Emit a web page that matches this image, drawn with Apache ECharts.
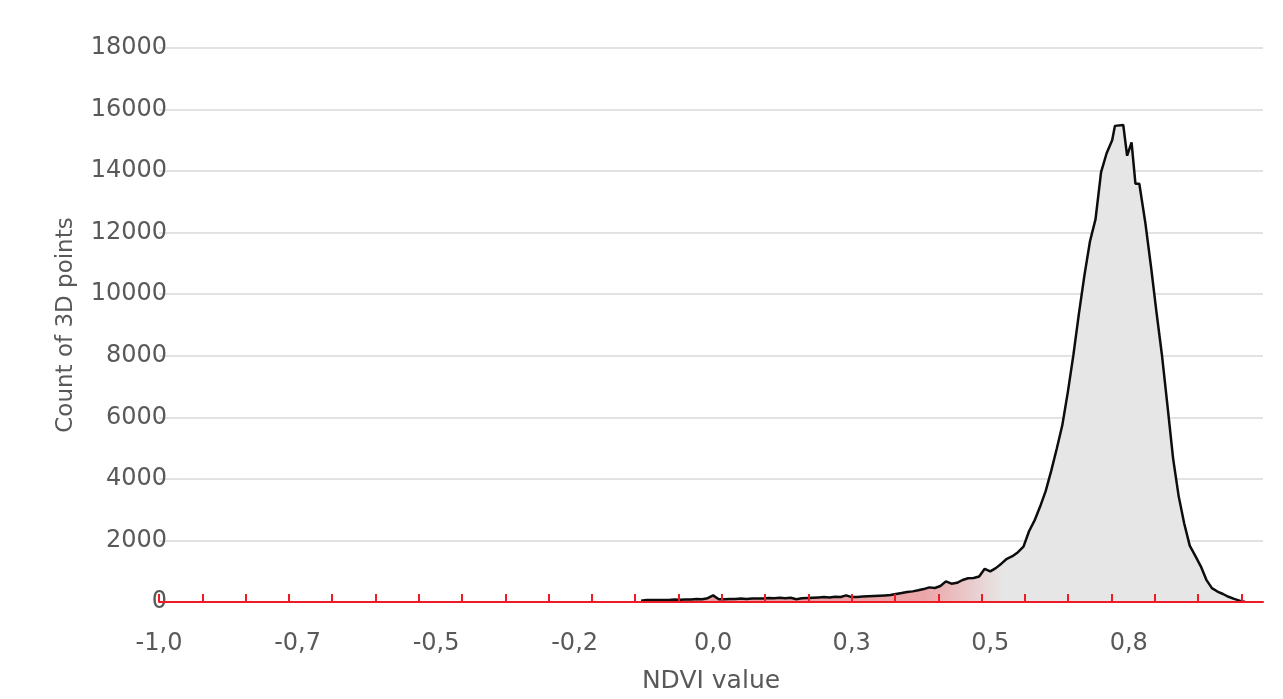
<!DOCTYPE html>
<html>
<head>
<meta charset="utf-8">
<script src="https://cdn.jsdelivr.net/npm/echarts@6/dist/echarts.min.js"></script>
<style>
  html, body { margin: 0; padding: 0; background: #ffffff; }
  #chart { width: 1283px; height: 699px; }
</style>
</head>
<body>
<div id="chart"></div>
<script>
// NDVI bin centres (x)
const ndvi = [
  -0.13, -0.12, -0.11, -0.10, -0.09, -0.08, -0.07, -0.06, -0.05, -0.04,
  -0.03, -0.02, -0.01, 0.00, 0.01, 0.02, 0.03, 0.04, 0.05, 0.06,
  0.07, 0.08, 0.09, 0.10, 0.11, 0.12, 0.13, 0.14, 0.15, 0.16,
  0.17, 0.18, 0.19, 0.20, 0.21, 0.22, 0.23, 0.24, 0.25, 0.26,
  0.27, 0.28, 0.29, 0.30, 0.31, 0.32, 0.33, 0.34, 0.35, 0.36,
  0.37, 0.38, 0.39, 0.40, 0.41, 0.42, 0.43, 0.44, 0.45, 0.46,
  0.47, 0.48, 0.49, 0.50, 0.51, 0.52, 0.53, 0.54, 0.55, 0.56,
  0.57, 0.58, 0.59, 0.60, 0.61, 0.62, 0.63, 0.64, 0.65, 0.66,
  0.67, 0.68, 0.69, 0.70, 0.71, 0.72, 0.725, 0.74, 0.747, 0.755,
  0.762, 0.769, 0.78, 0.79, 0.80, 0.81, 0.82, 0.83, 0.84, 0.85,
  0.86, 0.87, 0.88, 0.89, 0.90, 0.91, 0.92, 0.93, 0.94, 0.95, 0.96
];
// Count of 3D points per NDVI value
const counts = [
  40, 65, 65, 65, 65, 65, 80, 70, 80, 80,
  100, 90, 125, 215, 90, 90, 100, 100, 110, 100,
  110, 110, 110, 130, 120, 140, 120, 140, 90, 120,
  130, 140, 150, 160, 150, 170, 165, 215, 160, 165,
  175, 185, 195, 205, 215, 225, 260, 290, 325, 345,
  380, 420, 475, 455, 520, 670, 595, 625, 715, 770,
  780, 830, 1080, 995, 1100, 1245, 1405, 1490, 1620, 1800,
  2300, 2650, 3100, 3600, 4260, 4980, 5740, 6820, 8020, 9370,
  10620, 11720, 12440, 13970, 14580, 15000, 15470, 15500, 14500, 14930,
  13590, 13590, 12300, 10910, 9410, 8000, 6350, 4660, 3440, 2550,
  1830, 1500, 1160, 720, 450, 340, 260, 170, 100, 45, 0
];
// x tick labels as printed on the axis
const tickLabels = ['-1,0', '-0,7', '-0,5', '-0,2', '0,0', '0,3', '0,5', '0,8'];
// y axis range
const yMin = 0, yMax = 18000, yStep = 2000;
// x axis: bins of 1/128 from -1
const binStep = 1 / 128;
const binCount = 256;
const bins = [];
for (let i = 0; i < binCount; i++) bins.push((-1 + i * binStep).toFixed(4));
const xMin = -1, xMax = -1 + (binCount - 1) * binStep;

const seriesData = ndvi.map((x, i) => [x, counts[i]]);

const FONT = 'DejaVu Sans';
const chart = echarts.init(document.getElementById('chart'), null, { renderer: 'canvas' });
chart.setOption({
  backgroundColor: '#ffffff',
  animation: false,
  grid: { left: 159, right: 20, top: 48, bottom: 93, containLabel: false },
  xAxis: [
    {
      type: 'category',
      data: bins,
      boundaryGap: false,
      z: 3,
      name: 'NDVI value',
      nameLocation: 'middle',
      nameGap: 67,
      nameTextStyle: { color: '#595959', fontSize: 25, fontFamily: FONT },
      axisLine: { show: true, lineStyle: { color: '#ed1c24', width: 2 } },
      axisTick: { show: true, interval: 9, inside: true, length: 8, lineStyle: { color: '#ed1c24', width: 2 } },
      axisLabel: {
        interval: 31,
        margin: 30,
        color: '#595959',
        fontSize: 24,
        fontFamily: FONT,
        formatter: function (v, idx) {
          const k = idx / 32;
          return Number.isInteger(k) && tickLabels[k] !== undefined ? tickLabels[k] : '';
        }
      },
      splitLine: { show: false }
    },
    {
      type: 'value',
      min: xMin,
      max: xMax,
      show: false
    }
  ],
  yAxis: {
    type: 'value',
    min: yMin,
    max: yMax,
    interval: yStep,
    name: 'Count of 3D points',
    nameLocation: 'middle',
    nameRotate: 90,
    nameGap: 81,
    nameTextStyle: { color: '#595959', fontSize: 23, fontFamily: FONT },
    axisLine: { show: false },
    axisTick: { show: false },
    axisLabel: {
      color: '#595959', fontSize: 24, fontFamily: FONT, margin: -8,
      formatter: function (v) { return String(v); }
    },
    splitLine: { show: true, lineStyle: { color: '#d9d9d9', width: 1.5 } }
  },
  series: [
    {
      type: 'line',
      xAxisIndex: 1,
      data: seriesData,
      showSymbol: false,
      smooth: false,
      lineStyle: { color: '#0d0d0d', width: 2.5 },
      areaStyle: {
        color: new echarts.graphic.LinearGradient(0, 0, 1, 0, [
          { offset: 0, color: '#ea9a9e' },
          { offset: 0.47, color: '#eca6a9' },
          { offset: 0.6, color: '#e7e6e6' },
          { offset: 1, color: '#e7e6e6' }
        ]),
        opacity: 1
      },
      z: 2
    }
  ]
});
</script>
</body>
</html>
